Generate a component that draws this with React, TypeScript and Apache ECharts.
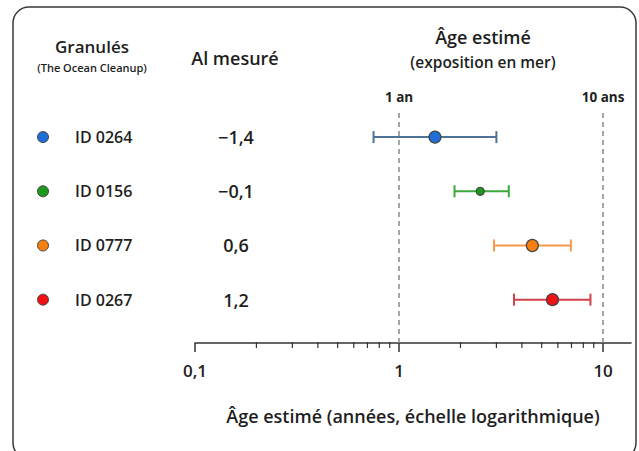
import React, { useEffect, useRef } from "react";
import * as echarts from "echarts";

const ids = ["ID 0264", "ID 0156", "ID 0777", "ID 0267"];
const alValues = ["−1,4", "−0,1", "0,6", "1,2"];
const ageCentral = [1.5, 2.5, 4.5, 5.65];
const ageLow = [0.75, 1.87, 2.92, 3.66];
const ageHigh = [3.0, 3.45, 6.95, 8.67];
const rowPos = [4, 3, 2, 1];
const dotColors = ["#1f6fd6", "#1c9a1c", "#f5800f", "#ee1212"];
const barColors = ["#4f7396", "#3aa83a", "#f89a48", "#d2404a"];
const dotSizes = [12, 8, 12, 12];
const majorTicks = [0.1, 1, 10];
const minorTicks = [0.2, 0.3, 0.4, 0.5, 0.6, 0.7, 0.8, 0.9, 2, 3, 4, 5, 6, 7, 8, 9];
const refLines = [
  { x: 1, label: "1 an" },
  { x: 10, label: "10 ans" },
];

const FONT = "Open Sans";
const TXT = "#1e1e1e";
const Y_MIN = 0.2;
const Y_MAX = 4.5;

export default function App() {
  const ref = useRef<HTMLDivElement>(null);
  useEffect(() => {
    document.body.style.margin = "0";
    const chart = echarts.init(ref.current!, null, { renderer: "svg" });
    const option: any = {
      animation: false,
      backgroundColor: "#ffffff",
      textStyle: { fontFamily: FONT },
      grid: { left: 195, right: 8, top: 110, bottom: 108 },
      xAxis: {
        type: "log",
        logBase: 10,
        min: 0.1,
        max: 13.7,
        axisLine: { show: true, lineStyle: { color: "#333", width: 1.5 } },
        axisTick: { show: true, customValues: majorTicks, length: 9, lineStyle: { color: "#333", width: 1.5 } },
        axisLabel: {
          customValues: majorTicks,
          formatter: (v: number) => String(v).replace(".", ","),
          fontSize: 17,
          fontWeight: 600,
          color: TXT,
          margin: 19,
          fontFamily: FONT,
        },
        splitLine: { show: false },
        minorTick: { show: false },
        name: "Âge estimé (années, échelle logarithmique)",
        nameLocation: "middle",
        nameGap: 64,
        nameTextStyle: { fontSize: 18, fontWeight: 600, color: TXT, fontFamily: FONT },
      },
      yAxis: { type: "value", min: Y_MIN, max: Y_MAX, show: false },
      series: [
        {
          type: "custom",
          clip: false,
          z: 5,
          data: minorTicks.map((v) => [v, 0.5]),
          renderItem: (params: any, api: any) => {
            const p = api.coord([api.value(0), Y_MIN]);
            return {
              type: "line",
              shape: { x1: p[0], y1: p[1] - 1, x2: p[0], y2: p[1] + 5 },
              style: { stroke: "#333", lineWidth: 1.2 },
            };
          },
        },
        {
          type: "custom",
          clip: false,
          data: rowPos.map((r, i) => [ageLow[i], ageHigh[i], r, i]),
          renderItem: (params: any, api: any) => {
            const lo = api.coord([api.value(0), api.value(2)]);
            const hi = api.coord([api.value(1), api.value(2)]);
            const i = api.value(3);
            const c = barColors[i];
            const h = 6;
            const st = { stroke: c, lineWidth: 2 };
            return {
              type: "group",
              children: [
                { type: "line", shape: { x1: lo[0], y1: lo[1], x2: hi[0], y2: hi[1] }, style: st },
                { type: "line", shape: { x1: lo[0], y1: lo[1] - h, x2: lo[0], y2: lo[1] + h }, style: st },
                { type: "line", shape: { x1: hi[0], y1: hi[1] - h, x2: hi[0], y2: hi[1] + h }, style: st },
              ],
            };
          },
          z: 2,
          markLine: {
            silent: true,
            symbol: "none",
            lineStyle: { color: "#888", type: [5, 4], width: 1.5 },
            label: {
              position: "end",
              distance: 6,
              fontSize: 13.5,
              fontWeight: 700,
              color: TXT,
              fontFamily: FONT,
            },
            data: refLines.map((l) => ({ xAxis: l.x, label: { formatter: l.label } })),
          },
        },
        {
          type: "scatter",
          z: 3,
          data: rowPos.map((r, i) => ({
            value: [ageCentral[i], r],
            symbolSize: dotSizes[i],
            itemStyle: { color: dotColors[i], borderColor: "#444", borderWidth: 1.2, opacity: 1 },
          })),
        },
      ],
    };
    chart.setOption(option);

    const graphics: any[] = [
      {
        type: "rect",
        shape: { x: 13, y: 7, width: 623, height: 452, r: 16 },
        style: { fill: "none", stroke: "#3a3a3a", lineWidth: 1.5 },
        silent: true,
      },
      { type: "text", x: 92, y: 46, style: { text: "Granulés", fontSize: 17, fontWeight: 600, fill: TXT, align: "center", verticalAlign: "middle", fontFamily: FONT } },
      { type: "text", x: 92, y: 67, style: { text: "(The Ocean Cleanup)", fontSize: 11, fontWeight: 600, fill: TXT, align: "center", verticalAlign: "middle", fontFamily: FONT } },
      { type: "text", x: 235, y: 58, style: { text: "Al mesuré", fontSize: 18, fontWeight: 600, fill: TXT, align: "center", verticalAlign: "middle", fontFamily: FONT } },
      { type: "text", x: 483, y: 37, style: { text: "Âge estimé", fontSize: 18, fontWeight: 600, fill: TXT, align: "center", verticalAlign: "middle", fontFamily: FONT } },
      { type: "text", x: 483, y: 62, style: { text: "(exposition en mer)", fontSize: 15.5, fontWeight: 600, fill: TXT, align: "center", verticalAlign: "middle", fontFamily: FONT } },
    ];
    rowPos.forEach((r, i) => {
      const y = chart.convertToPixel({ yAxisIndex: 0 }, r) as number;
      graphics.push({ type: "circle", shape: { cx: 43, cy: y, r: 5.5 }, style: { fill: dotColors[i], stroke: "#444", lineWidth: 1 } });
      graphics.push({ type: "text", x: 75, y, style: { text: ids[i], fontSize: 16, fontWeight: 600, fill: TXT, align: "left", verticalAlign: "middle", fontFamily: FONT } });
      graphics.push({ type: "text", x: 236, y, style: { text: alValues[i], fontSize: 18, fontWeight: 600, fill: TXT, align: "center", verticalAlign: "middle", fontFamily: FONT } });
    });
    chart.setOption({ graphic: graphics });

    return () => chart.dispose();
  }, []);
  return <div ref={ref} style={{ width: 639, height: 451, position: "absolute", left: 0, top: 0 }} />;
}
